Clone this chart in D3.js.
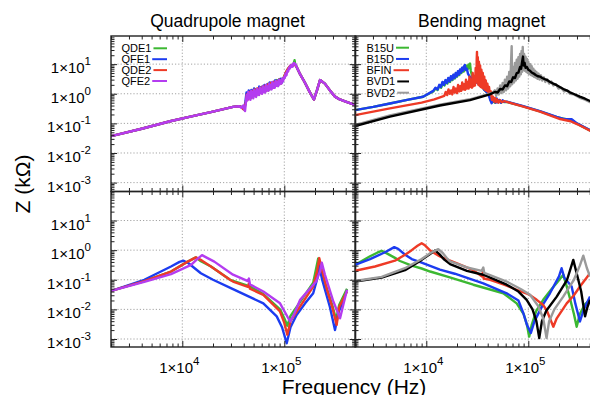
<!DOCTYPE html>
<html>
<head>
<meta charset="utf-8">
<script src="https://cdn.jsdelivr.net/npm/d3@7"></script>
<style>
  body { margin: 0; background: #fff; }
  svg { display: block; font-family: "Liberation Sans", Arial, sans-serif; }
</style>
</head>
<body>
<svg id="chart" width="590" height="395"></svg>
<script>
// ---- data: [frequency (Hz), Z (kOhm)] ----
const quadNames = ["QDE1", "QFE1", "QDE2", "QFE2"];
const bendNames = ["B15U", "B15D", "BFIN", "BVD1", "BVD2"];
const quadColors = ["#3cb832", "#1c3cf0", "#ee3a26", "#b43cf0"];
const bendColors = ["#3cb832", "#1c3cf0", "#ee3a26", "#000000", "#9a9a9a"];
const yExponents = [1, 0, -1, -2, -3];
const xExponents = [4, 5];

// quadrupole, top (smooth parts shared by the four magnets)
const qTopLow = [[2000,0.037],[4000,0.066],[7600,0.118],[12000,0.17],[20000,0.25],[31400,0.36],[36000,0.38]];
const qTopHigh = [[131000,8.5],[141000,5],[158000,2.5],[177000,1.16],[195000,0.64],[209000,1.3],[224000,2.9],[250000,2.2],[280000,1.3],[314000,0.8],[350000,0.64],[400000,0.54],[500000,0.41]];
const qde1Noise = [[38000,0.36],[40500,0.29],[42300,0.6],[43300,1.05],[44400,0.72],[45400,1.2],[46800,0.7],[48200,1.3],[49800,0.8],[51400,1.45],[53000,0.85],[54600,1.45],[56200,0.95],[58000,1.65],[59800,1.1],[61800,1.85],[63600,1.15],[65500,1.9],[67500,1.3],[69500,2.2],[71500,1.4],[73500,2.3],[76000,1.6],[78500,2.5],[81000,1.7],[83500,2.9],[86000,2.0],[89000,3.1],[92000,2.2],[95000,3.2],[98000,3.4],[102000,4.6],[106000,6.0],[110000,7.3],[114000,8.5],[118000,9.2],[122000,9.0],[126000,13.5],[128000,9.6]];
const qfe1Noise = [[38500,0.35],[40300,0.3],[41600,0.55],[42600,1.1],[43800,0.7],[44800,1.3],[46000,0.75],[47500,1.35],[49000,0.8],[50500,1.5],[52000,0.9],[53500,1.4],[55000,1.0],[56800,1.75],[58600,1.1],[60400,1.7],[62200,1.2],[64000,2.0],[66000,1.3],[68000,2.1],[70000,1.4],[72000,2.4],[74000,1.5],[76000,2.4],[78500,1.7],[81000,2.8],[83500,1.9],[86000,2.8],[89000,2.1],[92000,3.2],[95000,2.4],[98000,3.3],[101000,3.6],[104000,5.0],[108000,6.2],[112000,7.6],[116000,8.8],[120000,8.4],[124000,10.2],[128000,9.5]];
const qde2Noise = [[37500,0.36],[39800,0.3],[41900,0.48],[43000,0.95],[44100,0.65],[45200,1.15],[46400,0.72],[47900,1.25],[49400,0.78],[51000,1.4],[52600,0.88],[54200,1.5],[56000,0.95],[57800,1.6],[59600,1.05],[61400,1.75],[63400,1.15],[65400,1.95],[67400,1.3],[69400,2.1],[71600,1.45],[73800,2.3],[76200,1.55],[78600,2.5],[81200,1.75],[83800,2.7],[86600,1.95],[89400,3.0],[92400,2.2],[95400,3.1],[98500,3.3],[102000,4.7],[106000,6.1],[110000,7.4],[114000,8.7],[118000,9.4],[122000,8.8],[125000,10.6],[128000,9.4]];
const qfe2Noise = [[38000,0.34],[39500,0.4],[40500,0.3],[41200,0.26],[42000,0.5],[42800,0.9],[43500,0.6],[44300,1.15],[45000,0.7],[45800,1.0],[46500,0.62],[47300,1.25],[48000,0.8],[48800,1.1],[49600,0.7],[50400,1.35],[51200,0.85],[52000,1.2],[52900,0.78],[53800,1.45],[54700,0.95],[55600,1.3],[56500,0.9],[57500,1.6],[58500,1.05],[59500,1.45],[60500,1.0],[61600,1.8],[62700,1.15],[63800,1.6],[65000,1.1],[66200,2.0],[67400,1.3],[68600,1.75],[69800,1.25],[71000,2.2],[72300,1.45],[73600,2.0],[75000,1.4],[76400,2.5],[77800,1.6],[79200,2.2],[80700,1.6],[82200,2.7],[83700,1.9],[85300,2.5],[87000,1.8],[88600,3.0],[90300,2.1],[92000,2.8],[93800,2.2],[95600,3.3],[97400,2.7],[99300,3.6],[101000,3.4],[103000,4.8],[105000,4.2],[107000,6.0],[109000,5.6],[111000,7.5],[113000,7.0],[115000,9.0],[117000,8.0],[119000,9.5],[121000,8.4],[123000,10.5],[125000,11],[127000,9.8],[129000,10]];

// bending, top
const b15uTop = [[2000,0.28],[3020,0.36],[4400,0.47],[6500,0.62],[9300,0.79],[11700,1.2],[12300,1.5],[12900,1.35],[13500,1.9],[14000,1.6],[14600,2.4],[15100,1.9],[15600,2.8],[16100,2.2],[16600,3.3],[17100,2.5],[17600,3.8],[18100,2.9],[18600,4.3],[19100,3.3],[19600,5.0],[20100,3.8],[20600,5.6],[21100,4.3],[21600,6.4],[22100,5.0],[22700,7.4],[23300,5.6],[23900,8.2],[24500,6.3],[25100,9.0],[25700,7.0],[26300,9.8],[26800,10.4],[27300,6],[28000,4.2],[29000,3.2],[30000,2.9],[31200,2.5],[32500,2.2],[34000,1.85],[35500,1.7],[37000,1.35],[39100,1.15],[41500,0.85],[43000,0.6],[44000,0.74],[45000,0.52],[46000,0.68],[47200,0.5],[48400,0.66],[50000,0.52],[52000,0.6],[54000,0.5],[56000,0.58],[58000,0.52],[61400,0.53],[89300,0.375],[130000,0.255],[190000,0.163],[238000,0.135],[266000,0.13],[300000,0.098],[403000,0.058],[505000,0.044]];
const b15dTop = [[2000,0.28],[3020,0.36],[4400,0.47],[6500,0.62],[9300,0.79],[11700,1.25],[12300,1.6],[12900,1.4],[13400,2.0],[13900,1.7],[14400,2.5],[14900,2.0],[15400,2.9],[15900,2.3],[16400,3.4],[16900,2.6],[17400,3.9],[17900,3.0],[18400,4.4],[18900,3.4],[19400,5.0],[19900,3.9],[20400,5.8],[20900,4.5],[21400,6.6],[21900,5.2],[22400,7.6],[22900,6.0],[23400,8.4],[23900,9.3],[24400,6.5],[25000,7.0],[25600,4.8],[26200,4.2],[26800,3.7],[28000,3.3],[29000,2.7],[30000,2.9],[31200,2.4],[32500,2.2],[34000,1.8],[35500,1.7],[37000,1.35],[39000,1.15],[41000,0.9],[42500,0.6],[43700,0.48],[45000,0.72],[46000,0.55],[47000,0.66],[48000,0.5],[49000,0.7],[50500,0.52],[52000,0.62],[54000,0.5],[56000,0.6],[58000,0.53],[61400,0.54],[89300,0.38],[130000,0.26],[190000,0.166],[225000,0.14],[238000,0.138],[266000,0.138],[300000,0.1],[403000,0.059],[505000,0.045]];
const bfinTop = [[2000,0.19],[4400,0.32],[9000,0.5],[12000,0.65],[15000,0.85],[15500,1.15],[16000,0.9],[16500,1.4],[17000,1.0],[17500,1.3],[18000,0.95],[18500,1.7],[19000,1.1],[19500,1.5],[20000,1.05],[20500,2.0],[21000,1.2],[21500,1.8],[22000,1.25],[22500,2.4],[23000,1.4],[23500,2.1],[24000,1.35],[24500,3.0],[25000,1.5],[25500,2.5],[26000,1.5],[26500,3.8],[27000,1.7],[27500,3.0],[28000,1.6],[28500,5.0],[29000,1.8],[29500,4.0],[30000,1.9],[30500,7.5],[31000,2.4],[31200,14],[31400,26],[31600,3],[32000,17],[32400,2.0],[32800,12],[33200,1.9],[33700,9],[34200,1.7],[34700,6.5],[35200,1.6],[35800,5],[36400,1.5],[37000,3.8],[37600,1.35],[38300,2.8],[39000,1.25],[39700,2.2],[40400,1.15],[41200,1.7],[42000,1.0],[43000,1.2],[44000,0.62],[45000,0.8],[46000,0.55],[47000,0.72],[48000,0.52],[49500,0.65],[51000,0.5],[53000,0.6],[55000,0.52],[58000,0.56],[61400,0.53],[89300,0.37],[130000,0.25],[205000,0.14],[260000,0.118],[300000,0.095],[403000,0.057],[505000,0.043]];
const bvd1Top = [[2000,0.081],[4400,0.17],[13600,0.4],[26800,0.61],[42000,0.95],[47000,1.15],[50000,1.1],[53000,1.45],[56000,1.4],[59000,1.9],[62000,1.8],[65000,2.6],[68000,2.5],[71000,3.6],[74000,3.4],[77000,5.0],[80000,5.2],[83000,8],[85000,7],[87000,12],[88700,18],[90000,9],[92000,11],[94000,7.5],[97000,8],[100000,6.5],[104000,6],[108000,5.2],[113000,4.8],[118000,4.3],[124000,3.9],[130000,3.8],[137000,3.4],[145000,3.1],[153000,2.9],[162000,2.55],[176000,2.2],[190000,1.95],[210000,1.6],[225000,1.4],[240000,1.28],[256000,1.12],[280000,0.98],[320000,0.8],[360000,0.68],[403000,0.57],[505000,0.42]];
const bvd2Top = [[2000,0.088],[4400,0.185],[13600,0.43],[26800,0.65],[42000,1.0],[45000,1.1],[47000,1.3],[48500,0.85],[50000,1.5],[51500,0.95],[53000,1.9],[54500,1.05],[56000,2.3],[57500,1.15],[59000,3.0],[60500,1.3],[62000,3.8],[63500,1.5],[65000,5.5],[66500,1.8],[67800,12],[68700,40],[69500,2.1],[71000,8],[72500,2.4],[74000,11],[75500,2.8],[77000,14],[78500,3.2],[80000,17],[81500,3.8],[83000,22],[84500,4.5],[86000,28],[87200,5.5],[88200,38],[89500,6.5],[91000,22],[92500,6],[94000,18],[95500,5.5],[97000,15],[98500,5],[100000,12],[102000,4.6],[104000,10],[106000,4.3],[108000,8.5],[110000,4],[112000,7],[114000,3.7],[116000,6],[118000,3.5],[120000,5.4],[123000,3.2],[126000,4.8],[129000,3.0],[133000,4.2],[137000,2.8],[142000,3.6],[147000,2.5],[153000,3.1],[160000,2.2],[168000,2.6],[176000,1.9],[186000,2.1],[198000,1.5],[210000,1.6],[225000,1.2],[240000,1.3],[256000,1.0],[280000,0.95],[320000,0.73],[360000,0.63],[403000,0.52],[505000,0.4]];

// quadrupole, bottom
const qde1Bot = [[2000,0.042],[4240,0.09],[7750,0.19],[11300,0.41],[13600,0.57],[15200,0.42],[19100,0.28],[29400,0.1],[46000,0.06],[62300,0.033],[90800,0.01],[100000,0.005],[107000,0.0028],[115000,0.006],[143000,0.018],[192000,0.08],[215000,0.52],[235000,0.15],[262000,0.05],[295000,0.014],[322000,0.0045],[345000,0.014],[412000,0.05]];
const qfe1Bot = [[2000,0.042],[4240,0.1],[7750,0.28],[9400,0.4],[10300,0.44],[11500,0.36],[15200,0.166],[20000,0.1],[31400,0.048],[62300,0.016],[84300,0.0058],[95000,0.0025],[105600,0.00072],[115000,0.0025],[132000,0.0065],[160000,0.016],[192000,0.035],[212000,0.12],[220000,0.3],[235000,0.1],[280000,0.012],[314000,0.002],[340000,0.008],[394000,0.027]];
const qde2Bot = [[2000,0.042],[4240,0.09],[7750,0.19],[11300,0.41],[13600,0.57],[15500,0.45],[19100,0.28],[29400,0.1],[31400,0.087],[44000,0.058],[45000,0.075],[46000,0.05],[62300,0.031],[90800,0.0085],[100000,0.0035],[107000,0.0014],[115000,0.004],[143000,0.0126],[192000,0.059],[210000,0.2],[220000,0.54],[240000,0.15],[262000,0.046],[295000,0.012],[326000,0.003],[345000,0.012],[412000,0.04]];
const qfe2Bot = [[2000,0.042],[4240,0.085],[7750,0.155],[12200,0.32],[14000,0.5],[15600,0.68],[17500,0.55],[20600,0.41],[31400,0.148],[44000,0.09],[45000,0.11],[46100,0.07],[62300,0.04],[90800,0.016],[114000,0.0039],[125000,0.007],[143000,0.021],[205000,0.087],[225000,0.2],[233000,0.38],[250000,0.15],[300000,0.02],[352000,0.005],[380000,0.015],[412000,0.046]];

// bending, bottom
const b15uBot = [[2000,0.32],[2810,0.62],[3300,0.82],[3650,0.95],[4100,0.78],[4930,0.55],[5520,0.43],[7200,0.3],[9000,0.24],[10900,0.19],[17000,0.12],[28900,0.068],[56900,0.035],[76900,0.016],[90000,0.007],[97000,0.003],[102000,0.0012],[108000,0.003],[120000,0.009],[140000,0.021],[170000,0.05],[190000,0.078],[220000,0.148],[235000,0.07],[255000,0.025],[280000,0.007],[298000,0.0026],[320000,0.007],[360000,0.015],[403000,0.021]];
const b15dBot = [[2000,0.32],[2810,0.5],[3940,0.85],[4850,1.26],[5300,1.1],[6200,0.7],[7200,0.5],[9000,0.38],[13600,0.22],[19000,0.16],[36200,0.075],[61400,0.035],[80000,0.02],[89400,0.0074],[97000,0.003],[106000,0.0016],[115000,0.004],[140000,0.015],[163000,0.035],[200000,0.13],[212000,0.245],[225000,0.12],[266000,0.059],[290000,0.015],[321000,0.0039],[350000,0.01],[403000,0.027]];
const bfinBot = [[2000,0.2],[3140,0.28],[4930,0.44],[6200,0.7],[7190,1.0],[8200,1.4],[9010,1.72],[9600,1.5],[11000,0.95],[13600,0.61],[20000,0.36],[28900,0.21],[35000,0.13],[36000,0.19],[36500,0.11],[42200,0.1],[56900,0.07],[76900,0.046],[100000,0.033],[121000,0.021],[140000,0.014],[151000,0.0095],[163000,0.005],[176000,0.0026],[190000,0.005],[238000,0.016],[280000,0.03],[321000,0.059],[403000,0.166]];
const bvd1Bot = [[2000,0.087],[3650,0.118],[6180,0.21],[9010,0.47],[10800,0.72],[12200,0.98],[13500,0.72],[15000,0.48],[17100,0.34],[25000,0.2],[36200,0.148],[61400,0.068],[80000,0.04],[96400,0.021],[110000,0.01],[120000,0.004],[128000,0.00107],[136000,0.004],[150000,0.009],[190000,0.027],[240000,0.1],[276000,0.47],[300000,0.15],[330000,0.04],[360000,0.0058],[380000,0.012],[403000,0.021]];
const bvd2Bot = [[2000,0.091],[3650,0.125],[6180,0.245],[9010,0.5],[11000,0.8],[13100,1.08],[14500,0.8],[15800,0.55],[17100,0.42],[25000,0.26],[35000,0.2],[36200,0.26],[37000,0.17],[61400,0.087],[85000,0.048],[104000,0.031],[125000,0.013],[140000,0.005],[151000,0.00107],[160000,0.004],[180000,0.01],[220000,0.027],[280000,0.1],[320000,0.3],[346000,0.65],[375000,0.25],[403000,0.129]];

// ---- layout ----
const fDomain = [2000, 5e5];
const zDomainTop = [Math.pow(10, -3.3), Math.pow(10, 1.95)];
const zDomainBot = [Math.pow(10, -3.27), Math.pow(10, 1.98)];
const colL = [111, 355.6], colR = [355, 599.6];
const rowT = [191.5, 36], rowB = [347, 191.5];

const svg = d3.select("#chart");

const panels = [
  { col: colL, row: rowT, zd: zDomainTop, colors: quadColors, names: quadNames,
    data: [qTopLow.concat(qde1Noise, qTopHigh), qTopLow.concat(qfe1Noise, qTopHigh),
           qTopLow.concat(qde2Noise, qTopHigh), qTopLow.concat(qfe2Noise, qTopHigh)],
    order: [0, 1, 2, 3],
    legend: { x: 121.5, y: 52.3, step: 10.9, end: 167 }, yLab: true, xLab: false },
  { col: colR, row: rowT, zd: zDomainTop, colors: bendColors, names: bendNames,
    data: [b15uTop, b15dTop, bfinTop, bvd1Top, bvd2Top],
    order: [0, 1, 2, 4, 3],   // narrow black streak over the wider grey band
    legend: { x: 366.5, y: 51.7, step: 11.25, end: 409 }, yLab: false, xLab: false },
  { col: colL, row: rowB, zd: zDomainBot, colors: quadColors,
    data: [qde1Bot, qfe1Bot, qde2Bot, qfe2Bot], order: [0, 1, 2, 3], yLab: true, xLab: true },
  { col: colR, row: rowB, zd: zDomainBot, colors: bendColors,
    data: [b15uBot, b15dBot, bfinBot, bvd1Bot, bvd2Bot], order: [0, 1, 2, 3, 4], yLab: false, xLab: true }
];

const isDecade = v => Math.abs(Math.log10(v) - Math.round(Math.log10(v))) < 1e-9;

function sciLabel(g, x, y, exp, anchor) {
  const t = g.append("text")
    .attr("x", x).attr("y", y)
    .attr("text-anchor", anchor)
    .attr("font-size", 15)
    .attr("fill", "#000");
  t.append("tspan").text("1×10");
  t.append("tspan").attr("dy", -8).attr("font-size", 11.5).text(exp);
}

panels.forEach((p, i) => {
  const x = d3.scaleLog().domain(fDomain).range(p.col);
  const y = d3.scaleLog().domain(p.zd).range(p.row);
  const g = svg.append("g");

  // dotted grid at decades
  const xt = x.ticks(), yt = y.ticks();
  g.selectAll(".gx").data(xt.filter(isDecade)).enter().append("line")
    .attr("x1", d => x(d)).attr("x2", d => x(d))
    .attr("y1", p.row[0]).attr("y2", p.row[1])
    .attr("stroke", "#9a9a9a").attr("stroke-width", 0.9).attr("stroke-dasharray", "1.2,2");
  g.selectAll(".gy").data(yt.filter(isDecade)).enter().append("line")
    .attr("x1", p.col[0]).attr("x2", p.col[1])
    .attr("y1", d => y(d)).attr("y2", d => y(d))
    .attr("stroke", "#9a9a9a").attr("stroke-width", 0.9).attr("stroke-dasharray", "1.2,2");

  // curves
  const clipId = "clip" + i;
  svg.append("clipPath").attr("id", clipId).append("rect")
    .attr("x", p.col[0]).attr("y", p.row[1])
    .attr("width", p.col[1] - p.col[0]).attr("height", p.row[0] - p.row[1]);
  const line = d3.line().x(d => x(d[0])).y(d => y(d[1]));
  g.append("g").attr("clip-path", `url(#${clipId})`)
    .selectAll("path").data(p.order).enter().append("path")
    .attr("d", k => line(p.data[k]))
    .attr("fill", "none")
    .attr("stroke", k => p.colors[k])
    .attr("stroke-width", 2.4)
    .attr("stroke-linejoin", "round");

  // inward ticks on all four sides
  const tg = g.append("g").attr("color", "#222");
  [[xt.filter(isDecade), 6], [xt.filter(v => !isDecade(v)), 3.5]].forEach(([vals, len]) => {
    tg.append("g").attr("transform", `translate(0,${p.row[0]})`)
      .call(d3.axisBottom(x).tickValues(vals).tickSize(-len).tickFormat(""));
    tg.append("g").attr("transform", `translate(0,${p.row[1]})`)
      .call(d3.axisTop(x).tickValues(vals).tickSize(-len).tickFormat(""));
  });
  [[yt.filter(isDecade), 6], [yt.filter(v => !isDecade(v)), 3.5]].forEach(([vals, len]) => {
    tg.append("g").attr("transform", `translate(${p.col[0]},0)`)
      .call(d3.axisLeft(y).tickValues(vals).tickSize(-len).tickFormat(""));
    tg.append("g").attr("transform", `translate(${p.col[1]},0)`)
      .call(d3.axisRight(y).tickValues(vals).tickSize(-len).tickFormat(""));
  });
  tg.selectAll(".domain").remove();

  g.append("rect")
    .attr("x", p.col[0]).attr("y", p.row[1])
    .attr("width", p.col[1] - p.col[0]).attr("height", p.row[0] - p.row[1])
    .attr("fill", "none").attr("stroke", "#222").attr("stroke-width", 1.4);

  // legend
  if (p.legend) {
    const L = p.legend;
    p.names.forEach((name, k) => {
      const by = L.y + k * L.step;
      const t = g.append("text").attr("x", L.x).attr("y", by)
        .attr("font-size", 11).attr("fill", "#000").text(name);
      const end = L.x + t.node().getComputedTextLength();
      g.append("line")
        .attr("x1", end + 2).attr("x2", L.end)
        .attr("y1", by - 4).attr("y2", by - 4)
        .attr("stroke", p.colors[k]).attr("stroke-width", 2);
    });
  }

  // tick labels
  if (p.yLab) {
    yExponents.forEach(e => sciLabel(g, 91, y(Math.pow(10, e)) + 9, e, "end"));
  }
  if (p.xLab) {
    xExponents.forEach(e => sciLabel(g, x(Math.pow(10, e)) - 3, 373, e, "middle"));
  }
});

// titles and axis names
svg.append("text").attr("x", 227.5).attr("y", 26.5).attr("text-anchor", "middle")
  .attr("font-size", 17.5).text("Quadrupole magnet");
svg.append("text").attr("x", 481.7).attr("y", 26.5).attr("text-anchor", "middle")
  .attr("font-size", 17.5).text("Bending magnet");
svg.append("text").attr("x", 354).attr("y", 393.5).attr("text-anchor", "middle")
  .attr("font-size", 21).text("Frequency (Hz)");
svg.append("text").attr("transform", "translate(29.5,184) rotate(-90)")
  .attr("text-anchor", "middle").attr("font-size", 21).text("Z (kΩ)");
</script>
</body>
</html>
